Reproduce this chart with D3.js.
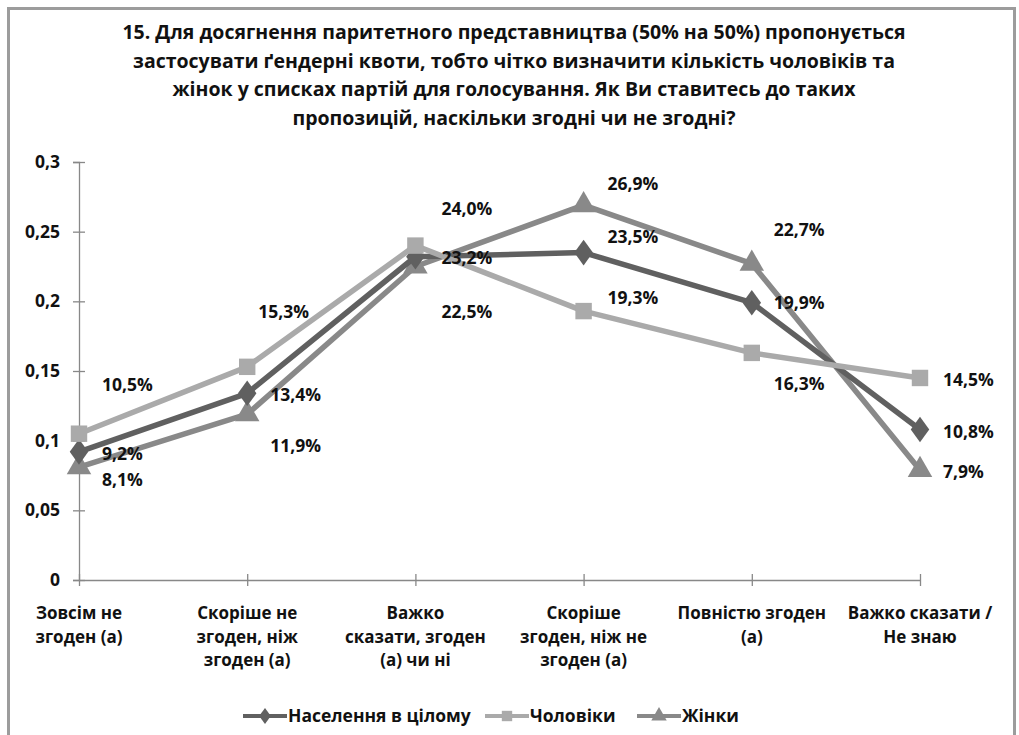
<!DOCTYPE html>
<html>
<head>
<meta charset="utf-8">
<script src="https://d3js.org/d3.v7.min.js"></script>
<style>
  body { margin: 0; background: #fff; }
  svg text { font-family: "Open Sans", "Noto Sans", sans-serif; font-weight: bold; fill: #111; }
</style>
</head>
<body>
<svg id="chart" width="1019" height="735"></svg>
<script>
// chart data
var titleLines = [
  "15. Для досягнення паритетного представництва (50% на 50%) пропонується",
  "застосувати ґендерні квоти, тобто чітко визначити кількість чоловіків та",
  "жінок у списках партій для голосування. Як Ви ставитесь до таких",
  "пропозицій, наскільки згодні чи не згодні?"
];
var categories = [
  ["Зовсім не", "згоден (а)"],
  ["Скоріше не", "згоден, ніж", "згоден (а)"],
  ["Важко", "сказати, згоден", "(а) чи ні"],
  ["Скоріше", "згоден, ніж не", "згоден (а)"],
  ["Повністю згоден", "(а)"],
  ["Важко сказати /", "Не знаю"]
];
var seriesNames = ["Населення в цілому", "Чоловіки", "Жінки"];
var population = [0.092, 0.134, 0.232, 0.235, 0.199, 0.108];
var men = [0.105, 0.153, 0.240, 0.193, 0.163, 0.145];
var women = [0.081, 0.119, 0.225, 0.269, 0.227, 0.079];
var yTicks = [0, 0.05, 0.1, 0.15, 0.2, 0.25, 0.3];

// label nudges (px) relative to each point, per series
var labelShift = [
  [[23, 2], [23, 2], [26, 1], [24, -16], [22, 0], [23, 2]],
  [[23, -49], [11, -55], [26, -37], [24, -13], [22, 31], [23, 2]],
  [[23, 13], [23, 32], [26, 45], [24, -21], [22, -34], [23, 2]]
];

var colors = ["#606060", "#aaaaaa", "#898989"];
var symbols = [d3.symbolDiamond, d3.symbolSquare, d3.symbolTriangle];
var symSize = [190, 270, 260];

var svg = d3.select("#chart");

// outer frame
svg.append("rect")
  .attr("x", 8.5).attr("y", 8.5)
  .attr("width", 1006).attr("height", 740)
  .attr("fill", "none").attr("stroke", "#9c9c9c").attr("stroke-width", 3);

svg.append("g").selectAll("text")
  .data(titleLines).enter().append("text")
  .attr("x", 514)
  .attr("y", function(d, i) { return 39 + i * 28.7; })
  .attr("text-anchor", "middle")
  .style("font-size", "19.5px")
  .text(function(d) { return d; });

var x = d3.scalePoint().domain(d3.range(categories.length)).range([79, 920]);
var y = d3.scaleLinear().domain([0, 0.3]).range([580, 162]);

// y axis
var yAxis = svg.append("g").attr("transform", "translate(79,0)")
  .call(d3.axisLeft(y).tickValues(yTicks).tickSize(6)
    .tickFormat(function(d) { return String(d).replace(".", ","); }));
yAxis.select(".domain").attr("stroke", "#888").attr("stroke-width", 1.3);
yAxis.selectAll(".tick line").attr("stroke", "#888").attr("stroke-width", 1.3).attr("x2", 6).attr("x1", -6);
yAxis.selectAll(".tick text").attr("x", -19).style("font-size", "17.5px")
  .style("font-family", "'Open Sans', sans-serif").attr("fill", "#111");

// x axis
var xAxis = svg.append("g").attr("transform", "translate(0,580)")
  .call(d3.axisBottom(x).tickSize(6).tickSizeOuter(0).tickFormat(""));
xAxis.select(".domain").attr("stroke", "#888").attr("stroke-width", 1.3);
xAxis.selectAll(".tick line").attr("stroke", "#888").attr("stroke-width", 1.3).attr("y1", -6).attr("y2", 6);

svg.append("g").selectAll("g")
  .data(categories).enter().append("g")
  .each(function(lines, i) {
    d3.select(this).selectAll("text").data(lines).enter().append("text")
      .attr("x", x(i))
      .attr("y", function(d, j) { return 619 + j * 23.5; })
      .attr("text-anchor", "middle")
      .style("font-size", "17px")
      .text(function(d) { return d; });
  });

// series
var allSeries = [population, men, women];
var line = d3.line().x(function(d, i) { return x(i); }).y(function(d) { return y(d); });

var order = [2, 0, 1];
order.forEach(function(s) {
  var g = svg.append("g");
  g.append("path").datum(allSeries[s])
    .attr("d", line).attr("fill", "none")
    .attr("stroke", colors[s]).attr("stroke-width", 5.5)
    .attr("stroke-linejoin", "round");
  g.selectAll("path.m").data(allSeries[s]).enter().append("path")
    .attr("class", "m")
    .attr("transform", function(d, i) { return "translate(" + x(i) + "," + y(d) + ")" + (s === 0 ? " scale(1.25,1)" : ""); })
    .attr("d", d3.symbol().type(symbols[s]).size(symSize[s]))
    .attr("fill", colors[s]);
});

allSeries.forEach(function(vals, s) {
  svg.append("g").selectAll("text").data(vals).enter().append("text")
    .attr("x", function(d, i) { return x(i) + labelShift[s][i][0]; })
    .attr("y", function(d, i) { return y(d) + labelShift[s][i][1]; })
    .attr("dy", "0.35em")
    .style("font-size", "17.5px")
    .text(function(d) { return (d * 100).toFixed(1).replace(".", ",") + "%"; });
});

// legend
var legendX = [243, 485, 637];
seriesNames.forEach(function(name, s) {
  var g = svg.append("g").attr("transform", "translate(" + legendX[s] + ",716)");
  g.append("line").attr("x1", 0).attr("x2", 44).attr("stroke", colors[s]).attr("stroke-width", 4);
  g.append("path").attr("transform", "translate(22,0)" + (s === 0 ? " scale(1.25,1)" : ""))
    .attr("d", d3.symbol().type(symbols[s]).size(symSize[s] * 0.4))
    .attr("fill", colors[s]);
  g.append("text").attr("x", 45).attr("dy", "0.35em")
    .style("font-size", "17.5px").text(name);
});
</script>
</body>
</html>
